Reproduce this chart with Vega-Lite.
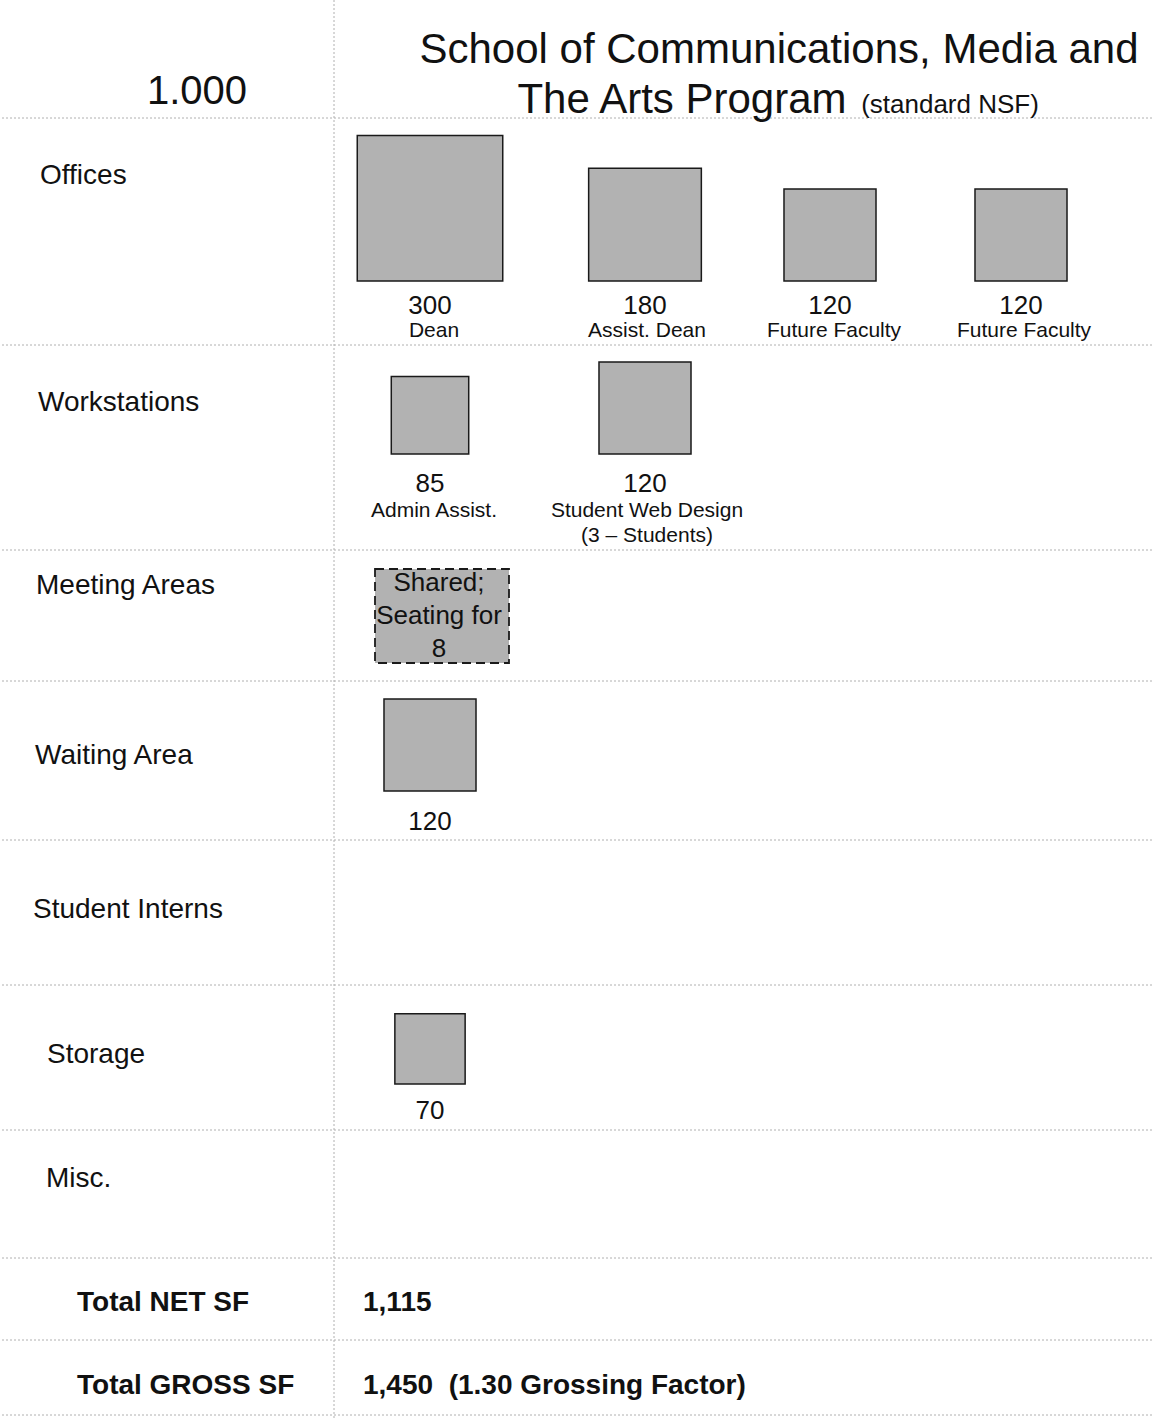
{
  "$schema": "https://vega.github.io/schema/vega-lite/v6.json",
  "width": 1152,
  "height": 1418,
  "padding": 0,
  "autosize": {"type": "none"},
  "background": "white",
  "config": {
    "view": {"stroke": null},
    "font": "Liberation Sans",
    "text": {"font": "Liberation Sans", "color": "#111111"}
  },
  "datasets": {
    "dividers": [
      {"line": 1}, {"line": 2}, {"line": 3}, {"line": 4}, {"line": 5},
      {"line": 6}, {"line": 7}, {"line": 8}, {"line": 9}, {"line": 10}
    ],
    "columns": [{"column": "divider"}],
    "heading": [
      {"part": 1, "text": "1.000"},
      {"part": 2, "text": "School of Communications, Media and"},
      {"part": 3, "text": "The Arts Program"},
      {"part": 4, "text": "(standard NSF)"}
    ],
    "sections": [
      {"row": 1, "section": "Offices"},
      {"row": 2, "section": "Workstations"},
      {"row": 3, "section": "Meeting Areas"},
      {"row": 4, "section": "Waiting Area"},
      {"row": 5, "section": "Student Interns"},
      {"row": 6, "section": "Storage"},
      {"row": 7, "section": "Misc."}
    ],
    "spaces": [
      {"row": 1, "slot": 1, "area": 300, "name": "Dean"},
      {"row": 1, "slot": 2, "area": 180, "name": "Assist. Dean"},
      {"row": 1, "slot": 3, "area": 120, "name": "Future Faculty"},
      {"row": 1, "slot": 4, "area": 120, "name": "Future Faculty"},
      {"row": 2, "slot": 1, "area": 85, "name": "Admin Assist."},
      {"row": 2, "slot": 2, "area": 120, "name": "Student Web Design\n(3 – Students)"},
      {"row": 4, "slot": 1, "area": 120, "name": ""},
      {"row": 6, "slot": 1, "area": 70, "name": ""}
    ],
    "meeting": [
      {"row": 3, "slot": 1, "note": "Shared;\nSeating for\n8"}
    ],
    "totals": [
      {"row": 8, "label": "Total NET SF", "amount": "1,115"},
      {"row": 9, "label": "Total GROSS SF", "amount": "1,450\u00a0 (1.30 Grossing Factor)"}
    ]
  },
  "layer": [
    {
      "data": {"name": "dividers"},
      "mark": {"type": "rule", "color": "#b0b0b0", "strokeWidth": 1, "strokeDash": [2, 2]},
      "encoding": {
        "y": {
          "field": "line", "type": "quantitative", "axis": null,
          "scale": {"domain": [1, 2, 3, 4, 5, 6, 7, 8, 9, 10], "range": [118, 345, 550, 681, 840, 985, 1130, 1258, 1340, 1415], "nice": false, "zero": false}
        }
      }
    },
    {
      "data": {"name": "columns"},
      "mark": {"type": "rule", "color": "#b0b0b0", "strokeWidth": 1, "strokeDash": [2, 2]},
      "encoding": {
        "x": {
          "field": "column", "type": "nominal", "axis": null,
          "scale": {"type": "point", "domain": ["divider"], "range": [334, 334], "padding": 0}
        }
      }
    },
    {
      "data": {"name": "heading"},
      "mark": {"type": "text", "align": "center", "baseline": "alphabetic"},
      "encoding": {
        "text": {"field": "text"},
        "x": {"field": "part", "type": "quantitative", "axis": null,
          "scale": {"domain": [1, 2, 3, 4], "range": [197, 779, 682, 950], "nice": false, "zero": false}},
        "y": {"field": "part", "type": "quantitative", "axis": null,
          "scale": {"domain": [1, 2, 3, 4], "range": [104, 63, 113, 113], "nice": false, "zero": false}},
        "size": {"field": "part", "type": "quantitative", "legend": null,
          "scale": {"domain": [1, 2, 3, 4], "range": [40, 42, 42, 26], "nice": false, "zero": false}}
      }
    },
    {
      "data": {"name": "sections"},
      "mark": {"type": "text", "align": "left", "baseline": "middle", "fontSize": 28},
      "encoding": {
        "text": {"field": "section"},
        "x": {"field": "row", "type": "quantitative", "axis": null,
          "scale": {"domain": [1, 2, 3, 4, 5, 6, 7], "range": [40, 38, 36, 35, 33, 47, 46], "nice": false, "zero": false}},
        "y": {"field": "row", "type": "quantitative", "axis": null,
          "scale": {"domain": [1, 2, 3, 4, 5, 6, 7], "range": [176, 403, 586, 756, 910, 1055, 1179], "nice": false, "zero": false}}
      }
    },
    {
      "data": {"name": "spaces"},
      "mark": {"type": "point", "shape": "M-1,-2H1V0H-1Z", "filled": true, "fill": "#b2b2b2", "stroke": "#1a1a1a", "strokeWidth": 1.5, "opacity": 1},
      "encoding": {
        "x": {"field": "slot", "type": "quantitative", "axis": null,
          "scale": {"domain": [1, 2, 3, 4], "range": [430, 645, 830, 1021], "nice": false, "zero": false}},
        "y": {"field": "row", "type": "quantitative", "axis": null,
          "scale": {"domain": [1, 2, 4, 6], "range": [281, 454, 791, 1084], "nice": false, "zero": false}},
        "size": {"field": "area", "type": "quantitative", "legend": null,
          "scale": {"domain": [0, 300], "range": [0, 21168], "nice": false}}
      }
    },
    {
      "data": {"name": "spaces"},
      "mark": {"type": "text", "align": "center", "baseline": "middle", "fontSize": 26},
      "encoding": {
        "text": {"field": "area", "type": "quantitative"},
        "x": {"field": "slot", "type": "quantitative", "axis": null,
          "scale": {"domain": [1, 2, 3, 4], "range": [430, 645, 830, 1021], "nice": false, "zero": false}},
        "y": {"field": "row", "type": "quantitative", "axis": null,
          "scale": {"domain": [1, 2, 4, 6], "range": [306, 484, 822, 1111], "nice": false, "zero": false}}
      }
    },
    {
      "data": {"name": "spaces"},
      "transform": [{"filter": "datum.name != ''"}],
      "mark": {"type": "text", "align": "center", "baseline": "top", "fontSize": 21, "lineBreak": "\n", "lineHeight": 25},
      "encoding": {
        "text": {"field": "name"},
        "x": {"field": "slot", "type": "quantitative", "axis": null,
          "scale": {"domain": [1, 2, 3, 4], "range": [434, 647, 834, 1024], "nice": false, "zero": false}},
        "y": {"field": "row", "type": "quantitative", "axis": null,
          "scale": {"domain": [1, 2], "range": [320, 500], "nice": false, "zero": false}}
      }
    },
    {
      "data": {"name": "meeting"},
      "mark": {"type": "point", "shape": "M-1,-0.7015H1V0.7015H-1Z", "filled": true, "fill": "#b2b2b2", "stroke": "#1a1a1a", "strokeWidth": 1.8, "strokeDash": [9, 5], "opacity": 1, "size": 17956},
      "encoding": {
        "x": {"field": "slot", "type": "quantitative", "axis": null,
          "scale": {"domain": [0, 1], "range": [0, 442], "nice": false, "zero": false}},
        "y": {"field": "row", "type": "quantitative", "axis": null,
          "scale": {"domain": [0, 3], "range": [0, 616], "nice": false, "zero": false}}
      }
    },
    {
      "data": {"name": "meeting"},
      "mark": {"type": "text", "align": "center", "baseline": "top", "fontSize": 26, "lineBreak": "\n", "lineHeight": 33},
      "encoding": {
        "text": {"field": "note"},
        "x": {"field": "slot", "type": "quantitative", "axis": null,
          "scale": {"domain": [0, 1], "range": [0, 439], "nice": false, "zero": false}},
        "y": {"field": "row", "type": "quantitative", "axis": null,
          "scale": {"domain": [0, 3], "range": [0, 570], "nice": false, "zero": false}}
      }
    },
    {
      "data": {"name": "totals"},
      "transform": [{"fold": ["label", "amount"], "as": ["entry", "content"]}],
      "mark": {"type": "text", "align": "left", "baseline": "middle", "fontSize": 28, "fontWeight": "bold"},
      "encoding": {
        "text": {"field": "content"},
        "x": {"field": "entry", "type": "nominal", "axis": null,
          "scale": {"type": "point", "domain": ["label", "amount"], "range": [77, 363], "padding": 0}},
        "y": {"field": "row", "type": "quantitative", "axis": null,
          "scale": {"domain": [8, 9], "range": [1303, 1386], "nice": false, "zero": false}}
      }
    }
  ],
  "resolve": {"scale": {"x": "independent", "y": "independent", "size": "independent"}}
}
